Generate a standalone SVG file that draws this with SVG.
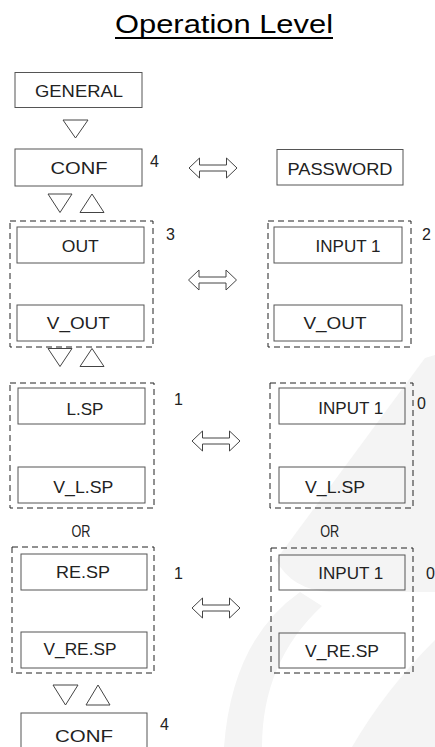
<svg xmlns="http://www.w3.org/2000/svg" width="435" height="747" viewBox="0 0 435 747">
<defs>
<style>
.bg{fill:#ffffff}
.wm{fill:#f4f4f4}
.box{fill:none;stroke:#555;stroke-width:1}
.grp{fill:none;stroke:#222;stroke-width:1;stroke-dasharray:6 4}
.lbl{font-family:"Liberation Sans",Arial,sans-serif;font-size:17px;fill:#222;text-anchor:middle}
.num{font-family:"Liberation Sans",Arial,sans-serif;font-size:16px;fill:#222}
.tri{fill:#fff;stroke:#444;stroke-width:1}
.dbl{fill:#fff;stroke:#444;stroke-width:1}
.title{font-family:"Liberation Sans",Arial,sans-serif;font-size:26px;fill:#000;text-anchor:start}
</style>
</defs>
<rect class="bg" x="0" y="0" width="435" height="747"/>
<g id="watermark">
<path class="wm" d="M425 358 L435 355 L435 592 L330 592 Q292 590 276 560 Z"/>
<path class="wm" d="M300 592 Q232 640 224 747 L262 747 Q262 662 322 606 Z"/>
<path class="wm" d="M435 640 Q385 690 352 747 L435 747 Z"/>
</g>
<g id="title">
<text class="title" x="115" y="32.5" textLength="218" lengthAdjust="spacingAndGlyphs">Operation Level</text>
<line x1="115" y1="38" x2="333" y2="38" stroke="#000" stroke-width="2"/>
</g>
<g id="connectors">
<polygon class="tri" points="63,120 88,120 75.5,138"/>
<polygon class="tri" points="48,194 72,194 60,212.5"/>
<polygon class="tri" points="80,212.5 104,212.5 92,194"/>
<polygon class="tri" points="48,348.5 72,348.5 60,366.5"/>
<polygon class="tri" points="80,366.5 104,366.5 92,348.5"/>
<polygon class="tri" points="53,685 78,685 65.5,705"/>
<polygon class="tri" points="86,705 110,705 98,685"/>
<polygon class="dbl" transform="translate(213,168)" points="-24,0 -13.5,-10 -13.5,-3 13.5,-3 13.5,-10 24,0 13.5,10 13.5,3 -13.5,3 -13.5,10"/>
<polygon class="dbl" transform="translate(212.5,280)" points="-24,0 -13.5,-10 -13.5,-3 13.5,-3 13.5,-10 24,0 13.5,10 13.5,3 -13.5,3 -13.5,10"/>
<polygon class="dbl" transform="translate(216,441)" points="-24,0 -13.5,-10 -13.5,-3 13.5,-3 13.5,-10 24,0 13.5,10 13.5,3 -13.5,3 -13.5,10"/>
<polygon class="dbl" transform="translate(216,608)" points="-24,0 -13.5,-10 -13.5,-3 13.5,-3 13.5,-10 24,0 13.5,10 13.5,3 -13.5,3 -13.5,10"/>
</g>
<g id="general">
<rect class="box" x="15" y="72.5" width="127" height="35"/>
<text class="lbl" x="79" y="96.7" textLength="88" lengthAdjust="spacingAndGlyphs">GENERAL</text>
</g>
<g id="conf">
<rect class="box" x="15" y="149" width="127" height="37"/>
<text class="lbl" x="79" y="174" textLength="57" lengthAdjust="spacingAndGlyphs">CONF</text>
<text class="num" x="150" y="167">4</text>
</g>
<g id="password">
<rect class="box" x="277" y="149.5" width="126" height="35.5"/>
<text class="lbl" x="340" y="175" textLength="105" lengthAdjust="spacingAndGlyphs">PASSWORD</text>
</g>
<g id="group-out">
<rect class="grp" x="10" y="221" width="143" height="126"/>
<text class="num" x="166" y="240">3</text>
</g>
<g id="out">
<rect class="box" x="17" y="227" width="127" height="36"/>
<text class="lbl" x="80.3" y="251.7" textLength="37" lengthAdjust="spacingAndGlyphs">OUT</text>
</g>
<g id="v-out">
<rect class="box" x="17" y="305" width="127" height="36"/>
<text class="lbl" x="78.3" y="329" textLength="63" lengthAdjust="spacingAndGlyphs">V_OUT</text>
</g>
<g id="group-input-out">
<rect class="grp" x="268" y="221" width="143" height="126"/>
<text class="num" x="422" y="240">2</text>
</g>
<g id="input1-a">
<rect class="box" x="274" y="227" width="128" height="36"/>
<text class="lbl" x="348" y="252.3" textLength="65" lengthAdjust="spacingAndGlyphs">INPUT 1</text>
</g>
<g id="v-out-b">
<rect class="box" x="274" y="305" width="128" height="36"/>
<text class="lbl" x="335" y="329" textLength="63" lengthAdjust="spacingAndGlyphs">V_OUT</text>
</g>
<g id="group-lsp">
<rect class="grp" x="10" y="383" width="144" height="125"/>
<text class="num" x="174" y="405">1</text>
</g>
<g id="lsp">
<rect class="box" x="18" y="388" width="127" height="36"/>
<text class="lbl" x="85" y="415" textLength="37" lengthAdjust="spacingAndGlyphs">L.SP</text>
</g>
<g id="v-lsp">
<rect class="box" x="18" y="467" width="127" height="36"/>
<text class="lbl" x="83.3" y="493.3" textLength="60" lengthAdjust="spacingAndGlyphs">V_L.SP</text>
</g>
<g id="group-input-lsp">
<rect class="grp" x="270" y="383" width="143" height="125"/>
<text class="num" x="417" y="409">0</text>
</g>
<g id="input1-b">
<rect class="box" x="279" y="388" width="126" height="36"/>
<text class="lbl" x="350.8" y="414" textLength="65" lengthAdjust="spacingAndGlyphs">INPUT 1</text>
</g>
<g id="v-lsp-b">
<rect class="box" x="279" y="467" width="126" height="36"/>
<text class="lbl" x="335" y="493.3" textLength="60" lengthAdjust="spacingAndGlyphs">V_L.SP</text>
</g>
<g id="or-left"><text class="lbl" x="81" y="536.7" textLength="19" lengthAdjust="spacingAndGlyphs">OR</text></g>
<g id="or-right"><text class="lbl" x="329.7" y="537" textLength="19" lengthAdjust="spacingAndGlyphs">OR</text></g>
<g id="group-resp">
<rect class="grp" x="12" y="547" width="142" height="126"/>
<text class="num" x="174" y="579">1</text>
</g>
<g id="resp">
<rect class="box" x="21" y="554" width="126" height="36"/>
<text class="lbl" x="83" y="578.3" textLength="54" lengthAdjust="spacingAndGlyphs">RE.SP</text>
</g>
<g id="v-resp">
<rect class="box" x="21" y="632" width="126" height="36"/>
<text class="lbl" x="80" y="655" textLength="73" lengthAdjust="spacingAndGlyphs">V_RE.SP</text>
</g>
<g id="group-input-resp">
<rect class="grp" x="271" y="548" width="142" height="125"/>
<text class="num" x="426" y="579">0</text>
</g>
<g id="input1-c">
<rect class="box" x="279" y="555" width="126" height="35"/>
<text class="lbl" x="350.8" y="579.3" textLength="65" lengthAdjust="spacingAndGlyphs">INPUT 1</text>
</g>
<g id="v-resp-b">
<rect class="box" x="279" y="633" width="126" height="35"/>
<text class="lbl" x="342" y="656.7" textLength="74" lengthAdjust="spacingAndGlyphs">V_RE.SP</text>
</g>
<g id="conf-end">
<rect class="box" x="21" y="713" width="126" height="37"/>
<text class="lbl" x="84" y="741.7" textLength="58" lengthAdjust="spacingAndGlyphs">CONF</text>
<text class="num" x="160" y="730">4</text>
</g>
</svg>
